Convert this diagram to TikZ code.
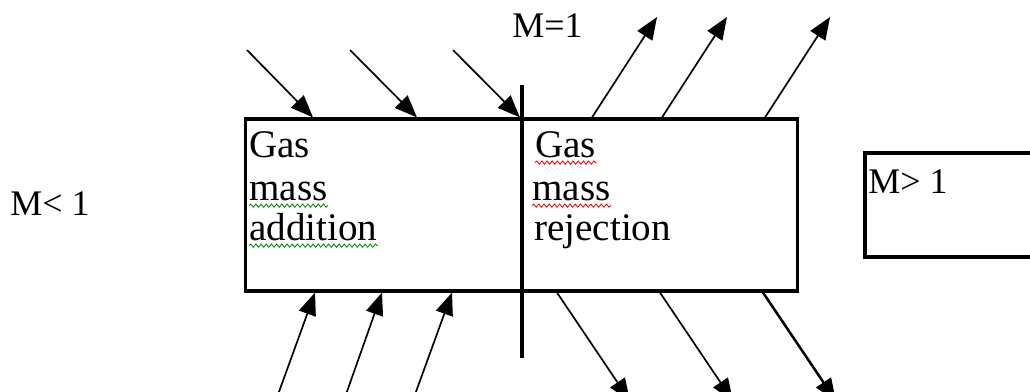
\documentclass[tikz,border=0pt]{standalone}
\usepackage{fontspec}
\setmainfont{Liberation Serif}
\usetikzlibrary{arrows.meta,decorations.pathmorphing}
\tikzset{
  flow/.style  = {-{Triangle[length=5.6mm,width=4.4mm]}, line width=1.2pt},
  wall/.style  = {draw, line width=2.2pt, inner sep=0pt},
  word/.style  = {anchor=base west, inner sep=0pt,
                  font=\fontsize{25.6pt}{30pt}\selectfont},
  boxword/.style = {word, font=\fontsize{27.8pt}{30pt}\selectfont},
  squig/.style = {decorate, decoration={snake, amplitude=0.4mm, segment length=1.3mm},
                  line width=0.6pt},
}

\begin{document}
\begin{tikzpicture}[x=0.025cm, y=-0.025cm]
  \clip (0,0) rectangle (1030,391);
  % duct and the supersonic box
  \node[wall, minimum width=13.775cm, minimum height=4.3cm] (chamber) at (521.5,205) {};
  \node[wall, minimum width=5.875cm, minimum height=2.6cm] (supbox) at (982.5,205) {};
  \draw[line width=2.2pt] (522,85) -- (522,358);
  % labels
  \node[word] (msonic) at (512,37) {M=1};
  \node[word] (msub) at (10,215) {M< 1};
  \node[word] (msup) at (868,193) {M> 1};
  \node[boxword] (gasA) at (249,157) {Gas};
  \node[boxword] (massA) at (249,200) {mass};
  \node[boxword] (addA) at (249,240) {addition};
  \node[boxword] (gasB) at (535,157) {Gas};
  \node[boxword] (massB) at (532,200) {mass};
  \node[boxword] (rejB) at (534,240) {rejection};
  \draw[squig, green!55!black] ([yshift=-4pt]massA.base west) -- ([yshift=-4pt]massA.base east);
  \draw[squig, green!55!black] ([yshift=-4pt]addA.base west) -- ([yshift=-4pt]addA.base east);
  \draw[squig, red] ([yshift=-4pt]gasB.base west) -- ([yshift=-4pt]gasB.base east);
  \draw[squig, red] ([yshift=-4pt]massB.base west) -- ([yshift=-4pt]massB.base east);
  % mass added
  \foreach \sx/\ex in {247/313, 350/417, 453/520}
    \draw[flow] (\sx,50) -- (\ex,0 |- chamber.north);
  \foreach \sx/\ex in {276/315, 344/382, 413/452}
    \draw[flow] (\sx,400) -- (\ex,0 |- chamber.south);
  % mass rejected
  \foreach \sx/\ex in {592/657, 662/727, 765/830}
    \draw[flow] (\sx,0 |- chamber.north) -- (\ex,17);
  \foreach \sx/\ex in {557/630, 660/733}
    \draw[flow] (\sx,0 |- chamber.south) -- (\ex,401);
  \draw[flow, line width=1.8pt] (763,0 |- chamber.south) -- (836,401);
\end{tikzpicture}
\end{document}
